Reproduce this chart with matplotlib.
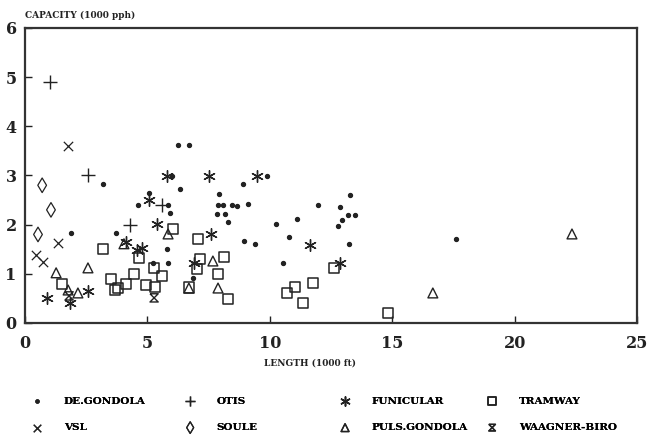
import matplotlib
matplotlib.use('Agg')
from matplotlib import pyplot as plt

# lift systems: length (1000 ft) vs capacity (1000 pph)
DE_GONDOLA_X = [6.24, 6.69, 3.18, 6.33, 6.0, 7.92, 8.9, 9.88, 5.06, 4.61, 5.84, 5.92,
                7.88, 8.08, 8.45, 8.65, 9.1, 7.84, 8.16, 8.29, 8.94, 9.39, 1.88, 3.71,
                5.8, 5.84, 5.22, 6.86, 10.24, 10.78, 11.1, 10.53, 11.96, 13.27, 12.86,
                12.94, 13.18, 13.47, 12.78, 13.22, 17.6]
DE_GONDOLA_Y = [3.62, 3.62, 2.82, 2.72, 2.99, 2.62, 2.83, 2.99, 2.64, 2.4, 2.4, 2.24,
                2.4, 2.4, 2.4, 2.38, 2.42, 2.22, 2.22, 2.05, 1.67, 1.6, 1.83, 1.83,
                1.5, 1.22, 1.22, 0.91, 2.01, 1.75, 2.11, 1.22, 2.4, 2.6, 2.36,
                2.09, 2.2, 2.2, 1.97, 1.6, 1.71]

OTIS_X = [1.0, 2.57, 4.3, 5.6]
OTIS_Y = [4.9, 3.0, 2.0, 2.4]

FUNICULAR_X = [0.9, 1.84, 2.57, 4.12, 4.57, 4.78, 5.06, 5.39, 5.8, 7.6, 6.9, 7.51, 9.47, 11.63, 12.86]
FUNICULAR_Y = [0.51, 0.41, 0.65, 1.65, 1.48, 1.52, 2.5, 2.01, 2.99, 1.8, 1.22, 2.99, 2.99, 1.59, 1.22]

TRAMWAY_X = [3.18, 3.51, 3.8, 3.67, 4.12, 4.45, 4.65, 4.94, 5.31, 5.27, 5.59, 6.04, 1.51,
             7.06, 7.14, 7.02, 6.69, 8.12, 7.88, 8.29, 10.69, 11.02, 11.35, 11.76, 12.61, 14.82]
TRAMWAY_Y = [1.5, 0.89, 0.71, 0.67, 0.79, 1.0, 1.32, 0.77, 0.73, 1.12, 0.96, 1.91, 0.79,
             1.71, 1.3, 1.1, 0.72, 1.34, 1.0, 0.49, 0.61, 0.73, 0.41, 0.81, 1.12, 0.2]

VSL_X = [1.75, 1.35, 0.45, 0.73]
VSL_Y = [3.6, 1.62, 1.38, 1.24]

SOULE_X = [0.7, 1.06, 0.53]
SOULE_Y = [2.8, 2.3, 1.8]

PULS_GONDOLA_X = [1.27, 2.57, 1.76, 2.16, 4.04, 5.84, 7.67, 7.88, 6.69, 16.65, 22.33]
PULS_GONDOLA_Y = [1.02, 1.12, 0.67, 0.61, 1.61, 1.81, 1.26, 0.71, 0.71, 0.61, 1.81]

WAAGNER_BIRO_X = [5.27, 1.8]
WAAGNER_BIRO_Y = [0.51, 0.55]

INK = '#222222'
HOURGLASS = [(-1, 1), (1, 1), (-1, -1), (1, -1), (-1, 1)]

plt.rcParams['font.family'] = 'DejaVu Serif'

fig = plt.figure(figsize=(6.48, 4.37), dpi=100)
ax = fig.add_axes([0.0386, 0.261, 0.945, 0.675])

series = [
    ('DE.GONDOLA', DE_GONDOLA_X, DE_GONDOLA_Y, dict(marker='o', s=8, color=INK)),
    ('VSL', VSL_X, VSL_Y, dict(marker='x', s=45, color=INK, linewidths=0.9)),
    ('OTIS', OTIS_X, OTIS_Y, dict(marker='+', s=90, color=INK, linewidths=1.0)),
    ('SOULE', SOULE_X, SOULE_Y, dict(marker='d', s=55, facecolors='none', edgecolors=INK, linewidths=0.9)),
    ('FUNICULAR', FUNICULAR_X, FUNICULAR_Y, dict(marker=(6, 2, 0), s=70, color=INK, linewidths=1.0)),
    ('PULS.GONDOLA', PULS_GONDOLA_X, PULS_GONDOLA_Y, dict(marker='^', s=50, facecolors='none', edgecolors=INK, linewidths=1.0)),
    ('TRAMWAY', TRAMWAY_X, TRAMWAY_Y, dict(marker='s', s=55, facecolors='none', edgecolors=INK, linewidths=1.1)),
    ('WAAGNER-BIRO', WAAGNER_BIRO_X, WAAGNER_BIRO_Y, dict(marker=HOURGLASS, s=35, facecolors='none', edgecolors=INK, linewidths=1.0)),
]

handles = []
for name, xs, ys, style in series:
    handles.append(ax.scatter(xs, ys, label=name, **style))

ax.set_xlim(0, 25)
ax.set_ylim(0, 6)
ax.set_xticks([0, 5, 10, 15, 20, 25])
ax.set_yticks([0, 1, 2, 3, 4, 5, 6])
ax.tick_params(direction='in', length=5, width=1, colors=INK, labelsize=11.5, pad=9)
for lab in ax.get_xticklabels() + ax.get_yticklabels():
    lab.set_fontweight('bold')
ax.tick_params(axis='y', pad=6)
for sp in ax.spines.values():
    sp.set_linewidth(1.6)
    sp.set_color('#333333')

fig.text(0.0386, 0.955, 'CAPACITY (1000 pph)', fontsize=6.5, fontweight='bold', color=INK, va='bottom')
fig.text(0.478, 0.163, 'LENGTH (1000 ft)', fontsize=6.5, fontweight='bold', color=INK, ha='center')

# legend: four columns of two entries, placed to match the original layout
col_x = [0.039, 0.275, 0.514, 0.741]
for i, x0 in enumerate(col_x):
    leg = fig.legend(handles=handles[2 * i:2 * i + 2], loc='upper left', bbox_to_anchor=(x0, 0.102),
                     frameon=False, prop={'weight': 'bold', 'size': 7.5}, borderaxespad=0,
                     handletextpad=1.8, labelspacing=1.65, markerscale=0.8, handlelength=1.5)
    fig.add_artist(leg)

fig.savefig('out.png', dpi=100)
